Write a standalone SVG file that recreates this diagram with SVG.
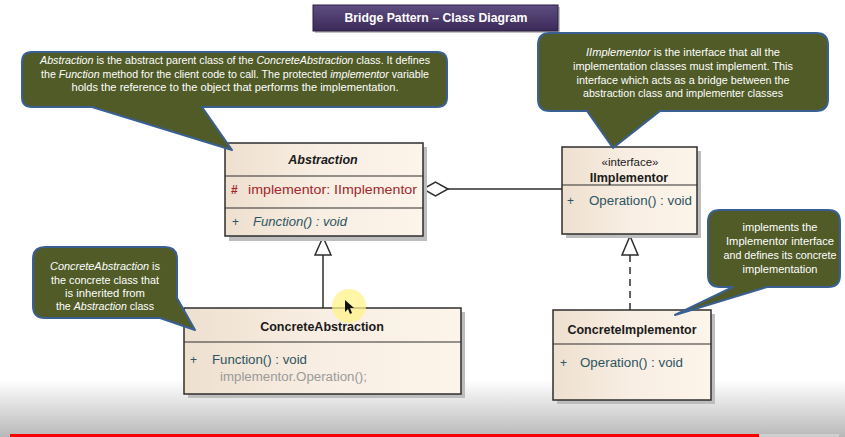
<svg xmlns="http://www.w3.org/2000/svg" width="845" height="437" viewBox="0 0 845 437">
<defs>
<linearGradient id="bg" x1="0" y1="0" x2="0" y2="1"><stop offset="0" stop-color="#ffffff"/><stop offset="1" stop-color="#b8b8b8"/></linearGradient>
<linearGradient id="title" x1="0" y1="0" x2="0" y2="1"><stop offset="0" stop-color="#5e4d80"/><stop offset="1" stop-color="#3b2a58"/></linearGradient>
<linearGradient id="cls" x1="0" y1="0" x2="1" y2="0"><stop offset="0" stop-color="#eee0cf"/><stop offset="0.5" stop-color="#f8eee3"/><stop offset="1" stop-color="#fdf4ea"/></linearGradient>
<style>
.box{fill:url(#cls);stroke:#2e2e2e;stroke-width:1.5}
.shadow{fill:#bdbdbd}
.sep{stroke:#2e2e2e;stroke-width:1.2}
.cname{font-family:"Liberation Sans",Arial,sans-serif;font-size:12.5px;font-weight:bold;fill:#1a1a1a;text-anchor:middle}
.mem{font-family:"Liberation Sans",Arial,sans-serif;font-size:12px;fill:#2c5462}
.attr{font-family:"Liberation Sans",Arial,sans-serif;font-size:12px;fill:#a3262c}
.co{fill:#505b27;stroke:#3a5f93;stroke-width:2;stroke-linejoin:round}
.ct{font-family:"Liberation Sans",Arial,sans-serif;font-size:10.5px;fill:#ffffff;text-anchor:middle}
.line{stroke:#2e2e2e;stroke-width:1.5;fill:none}
</style>
</defs>
<rect x="0" y="0" width="845" height="437" fill="#ffffff"/>
<rect x="0" y="380" width="845" height="57" fill="url(#bg)"/>
<rect x="10" y="434" width="749" height="3" fill="#ff0000"/>
<rect x="759" y="434" width="80" height="3" fill="#cfcfcf"/>

<g id="title-bar">
<rect x="315" y="7" width="245" height="26" fill="#9a9a9a" opacity="0.6"/>
<rect x="313" y="5" width="245" height="26" fill="url(#title)" stroke="#2a1f40" stroke-width="1"/>
<text x="436" y="22" font-family="Liberation Sans,Arial,sans-serif" font-size="13.5" font-weight="bold" fill="#ffffff" text-anchor="middle" textLength="183" lengthAdjust="spacingAndGlyphs">Bridge Pattern – Class Diagram</text>
</g>

<g id="connectors">
<line class="line" x1="448" y1="189" x2="562" y2="189"/>
<polygon points="423,189 435.5,182 448,189 435.5,196" fill="#ffffff" stroke="#2e2e2e" stroke-width="1.5"/>
<line class="line" x1="323" y1="255" x2="323" y2="308"/>
<polygon points="323,237 315,255 331,255" fill="#ffffff" stroke="#2e2e2e" stroke-width="1.5"/>
<line class="line" x1="630" y1="255" x2="630" y2="310" stroke-dasharray="7,5"/>
<polygon points="630,236 622,255 638,255" fill="#ffffff" stroke="#2e2e2e" stroke-width="1.5"/>
</g>

<g id="Abstraction">
<rect class="shadow" x="229" y="147" width="198" height="94"/>
<rect class="box" x="225" y="143" width="198" height="93"/>
<line class="sep" x1="225" y1="176" x2="423" y2="176"/>
<line class="sep" x1="225" y1="208" x2="423" y2="208"/>
<text class="cname" x="323" y="164" font-style="italic">Abstraction</text>
<text class="attr" x="231" y="194" font-weight="bold">#</text>
<text class="attr" x="248" y="194" textLength="169" lengthAdjust="spacingAndGlyphs">implementor:  IImplementor</text>
<text class="mem" x="232" y="226">+</text>
<text class="mem" x="253" y="226" font-style="italic" textLength="94" lengthAdjust="spacingAndGlyphs">Function() : void</text>
</g>

<g id="IImplementor">
<rect class="shadow" x="566" y="151" width="135" height="87"/>
<rect class="box" x="562" y="147" width="135" height="87"/>
<line class="sep" x1="562" y1="185" x2="697" y2="185"/>
<text x="630" y="166" font-family="Liberation Sans,Arial,sans-serif" font-size="11.5" fill="#1a1a1a" text-anchor="middle">«interface»</text>
<text class="cname" x="629" y="182">IImplementor</text>
<text class="mem" x="567" y="205">+</text>
<text class="mem" x="589" y="205" textLength="103" lengthAdjust="spacingAndGlyphs">Operation() : void</text>
</g>

<g id="ConcreteAbstraction">
<rect class="shadow" x="188" y="312" width="277" height="86"/>
<rect class="box" x="184" y="308" width="277" height="86"/>
<line class="sep" x1="184" y1="342" x2="461" y2="342"/>
<text class="cname" x="322" y="331">ConcreteAbstraction</text>
<text class="mem" x="190" y="364">+</text>
<text class="mem" x="212" y="364" textLength="95" lengthAdjust="spacingAndGlyphs">Function() : void</text>
<text x="220" y="381" font-family="Liberation Sans,Arial,sans-serif" font-size="12" fill="#9a9a9a" textLength="147" lengthAdjust="spacingAndGlyphs">implementor.Operation();</text>
</g>

<g id="ConcreteImplementor">
<rect class="shadow" x="557" y="314" width="158" height="90"/>
<rect class="box" x="553" y="310" width="158" height="90"/>
<line class="sep" x1="553" y1="344" x2="711" y2="344"/>
<text class="cname" x="632" y="334">ConcreteImplementor</text>
<text class="mem" x="560" y="367">+</text>
<text class="mem" x="580" y="367" textLength="103" lengthAdjust="spacingAndGlyphs">Operation() : void</text>
</g>

<g id="note-abstraction">
<path class="co" d="M32,52 H437 Q447,52 447,62 V97 Q447,107 437,107 H202 L232,150 L92,107 H32 Q22,107 22,97 V62 Q22,52 32,52 Z"/>
<text class="ct" x="235" y="64" textLength="390" lengthAdjust="spacingAndGlyphs"><tspan font-style="italic">Abstraction</tspan> is the abstract parent class of the <tspan font-style="italic">ConcreteAbstraction</tspan> class. It defines</text>
<text class="ct" x="235" y="77.5" textLength="388" lengthAdjust="spacingAndGlyphs">the <tspan font-style="italic">Function</tspan> method for the client code to call. The protected <tspan font-style="italic">implementor</tspan> variable</text>
<text class="ct" x="235" y="91" textLength="327" lengthAdjust="spacingAndGlyphs">holds the reference to the object that performs the implementation.</text>
</g>

<g id="note-iimplementor">
<path class="co" d="M550,33 H816 Q828,33 828,45 V99 Q828,111 816,111 H660 L613,148 L587,111 H550 Q538,111 538,99 V45 Q538,33 550,33 Z"/>
<text class="ct" x="683" y="56" textLength="194" lengthAdjust="spacingAndGlyphs"><tspan font-style="italic">IImplementor</tspan> is the interface that all the</text>
<text class="ct" x="683" y="69.5" textLength="220" lengthAdjust="spacingAndGlyphs">implementation classes must implement. This</text>
<text class="ct" x="683" y="83.5" textLength="213" lengthAdjust="spacingAndGlyphs">interface which acts as a bridge between the</text>
<text class="ct" x="683" y="97" textLength="200" lengthAdjust="spacingAndGlyphs">abstraction class and implementer  classes</text>
</g>

<g id="note-concreteabstraction">
<path class="co" d="M45,247 H165 Q177,247 177,259 V298 L195,330 L160,318 H45 Q33,318 33,306 V259 Q33,247 45,247 Z"/>
<text class="ct" x="105" y="270" textLength="110" lengthAdjust="spacingAndGlyphs"><tspan font-style="italic">ConcreteAbstraction</tspan> is</text>
<text class="ct" x="105" y="284" textLength="108" lengthAdjust="spacingAndGlyphs">the concrete class that</text>
<text class="ct" x="105" y="297" textLength="80" lengthAdjust="spacingAndGlyphs">is inherited from</text>
<text class="ct" x="105" y="310" textLength="98" lengthAdjust="spacingAndGlyphs">the <tspan font-style="italic">Abstraction</tspan> class</text>
</g>

<g id="note-concreteimplementor">
<path class="co" d="M720,210 H828 Q840,210 840,222 V275 Q840,287 828,287 H767 L675,315 L733,287 H720 Q708,287 708,275 V222 Q708,210 720,210 Z"/>
<text class="ct" x="780" y="231" textLength="75" lengthAdjust="spacingAndGlyphs">implements the</text>
<text class="ct" x="780" y="245" textLength="108" lengthAdjust="spacingAndGlyphs">Implementor interface</text>
<text class="ct" x="780" y="259" textLength="113" lengthAdjust="spacingAndGlyphs">and defines its concrete</text>
<text class="ct" x="780" y="273" textLength="75" lengthAdjust="spacingAndGlyphs">implementation</text>
</g>

<g id="cursor">
<circle cx="349" cy="306" r="17" fill="#fff38a" opacity="0.75"/>
<path d="M345,300 L345,312 L348,309 L350,314 L352,313 L350,308 L354,308 Z" fill="#111111"/>
</g>
</svg>
